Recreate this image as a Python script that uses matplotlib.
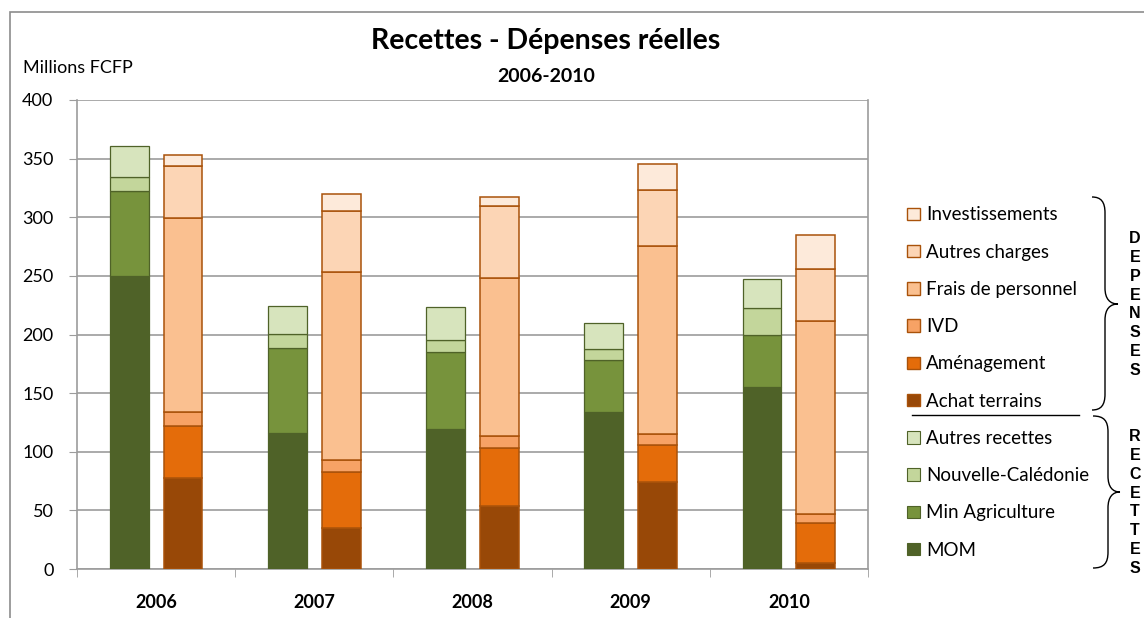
import numpy as np
import matplotlib.pyplot as plt
from matplotlib.path import Path
from matplotlib.patches import PathPatch, Rectangle, Patch
from matplotlib.lines import Line2D

W, H = 1144, 618

years = ["2006", "2007", "2008", "2009", "2010"]

# recettes (bottom -> top)
mom            = [250, 116, 119, 134, 155]
min_agri       = [72, 72.5, 66, 44, 44.5]
nouvelle_cal   = [12, 12, 10.5, 9.5, 23.5]
autres_rec     = [27, 23.5, 28, 22.5, 24.5]

# dépenses (bottom -> top)
achat_terrains = [78, 35, 54, 74, 5.5]
amenagement    = [44, 47.5, 49.5, 32, 33.5]
ivd            = [11.5, 10.5, 10, 9.5, 7.5]
frais_perso    = [165.5, 160.5, 134.5, 160, 165]
autres_charges = [44.5, 51.5, 61.5, 48, 44.5]
investissement = [9.5, 15, 8, 22, 29]

rec_series = [("MOM", mom, "#4F6228"),
              ("Min Agriculture", min_agri, "#77933C"),
              ("Nouvelle-Calédonie", nouvelle_cal, "#C3D69B"),
              ("Autres recettes", autres_rec, "#D7E4BD")]
dep_series = [("Achat terrains", achat_terrains, "#984807"),
              ("Aménagement", amenagement, "#E46C0A"),
              ("IVD", ivd, "#F7A265"),
              ("Frais de personnel", frais_perso, "#FAC090"),
              ("Autres charges", autres_charges, "#FCD5B5"),
              ("Investissements", investissement, "#FDEADA")]

FONT = ["Lato", "DejaVu Sans"]
plt.rcParams["font.family"] = FONT

fig = plt.figure(figsize=(W / 100, H / 100), dpi=100)
ax = fig.add_axes([77 / W, 1 - 569 / H, 791 / W, 469 / H])

x = np.arange(len(years))
bw = 0.245
off = 0.17

bottom = np.zeros(len(years))
for name, vals, col in rec_series:
    ax.bar(x - off, vals, bw, bottom=bottom, color=col, edgecolor="#4F6228",
           linewidth=0.9, zorder=3)
    bottom += np.array(vals)

bottom = np.zeros(len(years))
for name, vals, col in dep_series:
    ax.bar(x + off, vals, bw, bottom=bottom, color=col, edgecolor="#A9520A",
           linewidth=1.1, zorder=3)
    bottom += np.array(vals)

ax.set_xlim(-0.5, 4.5)
ax.set_ylim(0, 400)
ax.set_yticks(np.arange(0, 401, 50))
ax.yaxis.grid(True, color="#9C9C9C", linewidth=1.2, zorder=0)
ax.set_xticks(x)
ax.set_xticklabels(years, fontsize=13, fontweight="bold")
ax.set_xticks(np.arange(-0.5, 4.6, 1), minor=True)
ax.tick_params(axis="x", which="major", length=0, pad=18)
ax.tick_params(axis="x", which="minor", length=6, color="#9C9C9C")
ax.tick_params(axis="y", length=6, color="#9C9C9C", labelsize=13, pad=11)
for s in ax.spines.values():
    s.set_color("#9C9C9C")
    s.set_linewidth(1.2)
ax.spines["top"].set_visible(False)

# titles
fig.text(546 / W, 1 - 41 / H, "Recettes - Dépenses réelles", ha="center",
         va="center", fontsize=20.5, fontweight="bold")
fig.text(546 / W, 1 - 77 / H, "2006-2010", ha="center", va="center",
         fontsize=14, fontweight="bold")
fig.text(23 / W, 1 - 68 / H, "Millions FCFP", ha="left", va="center",
         fontsize=13)

# outer frame
fig.add_artist(Rectangle((10 / W, -0.1), 1.2, 1 - 12 / H + 0.1,
                         transform=fig.transFigure, fill=False,
                         edgecolor="#8C8C8C", linewidth=1.2))

# legend
handles = []
for name, vals, col in dep_series[::-1]:
    handles.append(Patch(facecolor=col, edgecolor="#A9520A", linewidth=1, label=name))
for name, vals, col in rec_series[::-1]:
    handles.append(Patch(facecolor=col, edgecolor="#4F6228", linewidth=0.8, label=name))
fig.legend(handles=handles, loc="upper left",
           bbox_to_anchor=(898 / W, 1 - 197 / H), frameon=False,
           fontsize=13.5, handlelength=0.65, handleheight=0.65,
           handletextpad=0.35, labelspacing=1.08, borderpad=0)

fig.add_artist(Line2D([912 / W, 1079 / W], [1 - 415 / H, 1 - 415 / H],
                      transform=fig.transFigure, color="black", linewidth=1))


def brace(xl, xv, xt, top, bot, mid, r=16):
    pts = [(xl, top),
           (xv - 4, top), (xv, top + r * 0.3), (xv, top + r),
           (xv, mid - r),
           (xv, mid - r * 0.3), (xv + (xt - xv) * 0.4, mid), (xt, mid),
           (xv + (xt - xv) * 0.4, mid), (xv, mid + r * 0.3), (xv, mid + r),
           (xv, bot - r),
           (xv, bot - r * 0.3), (xv - 4, bot), (xl, bot)]
    codes = [Path.MOVETO,
             Path.CURVE4, Path.CURVE4, Path.CURVE4,
             Path.LINETO,
             Path.CURVE4, Path.CURVE4, Path.CURVE4,
             Path.CURVE4, Path.CURVE4, Path.CURVE4,
             Path.LINETO,
             Path.CURVE4, Path.CURVE4, Path.CURVE4]
    verts = [(px / W, 1 - py / H) for px, py in pts]
    fig.add_artist(PathPatch(Path(verts, codes), transform=fig.transFigure,
                             fill=False, edgecolor="black", linewidth=1))


brace(1092, 1105, 1118, 197, 410, 304)
brace(1093, 1108, 1120, 416, 568, 492)

for word, ymid in [("DEPENSES", 304.5), ("RECETTES", 502.5)]:
    fig.text(1135 / W, 1 - ymid / H, "\n".join(word), ha="center", va="center",
             fontsize=11.5, fontweight="bold", family="Liberation Sans",
             linespacing=1.33)

fig.savefig("out.png", dpi=100)
